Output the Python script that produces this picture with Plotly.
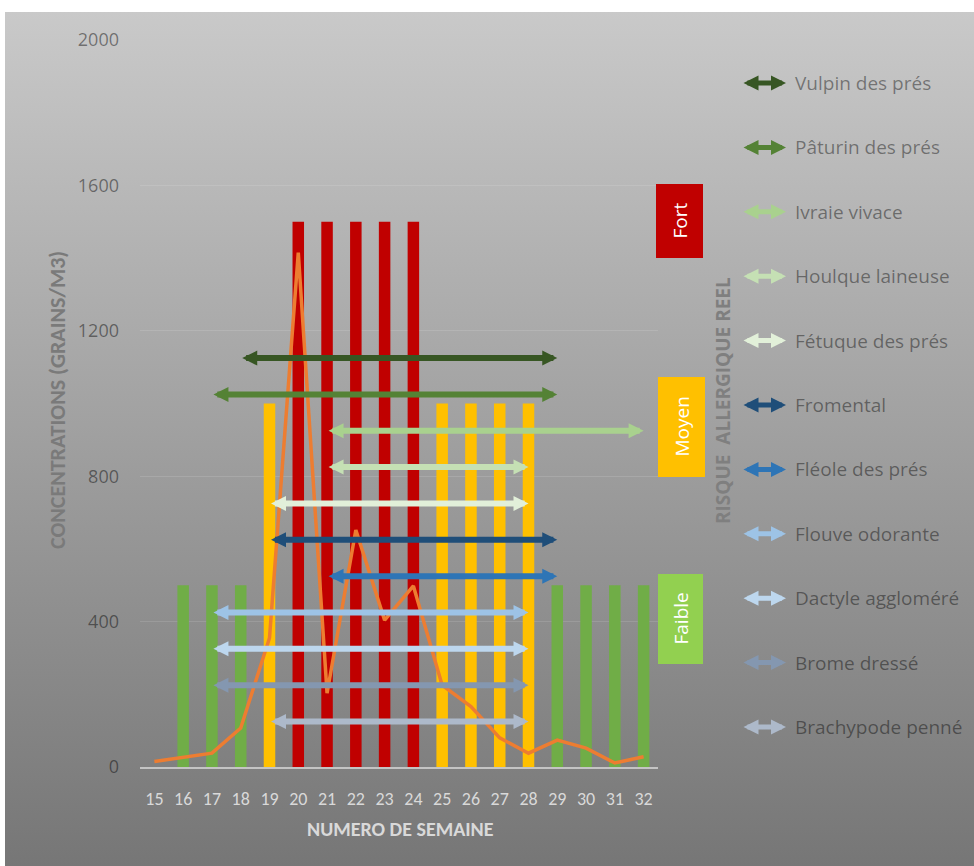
import base64
import plotly.graph_objects as go

# ---------------- data ----------------
weeks = list(range(15, 33))
risk_values = [None, 500, 500, 500, 1000, 1500, 1500, 1500, 1500, 1500,
               1000, 1000, 1000, 1000, 500, 500, 500, 500]
risk_level = [None, "Faible", "Faible", "Faible", "Moyen", "Fort", "Fort", "Fort", "Fort", "Fort",
              "Moyen", "Moyen", "Moyen", "Moyen", "Faible", "Faible", "Faible", "Faible"]
concentrations = [15, 26, 38, 107, 355, 1415, 203, 652, 404, 498,
                  225, 166, 80, 38, 74, 52, 11, 28]

species = ["Vulpin des prés", "Pâturin des prés", "Ivraie vivace", "Houlque laineuse",
           "Fétuque des prés", "Fromental", "Fléole des prés", "Flouve odorante",
           "Dactyle aggloméré", "Brome dressé", "Brachypode penné"]
species_start = [18, 17, 21, 21, 19, 19, 21, 17, 17, 17, 19]
species_end = [29, 29, 32, 28, 28, 29, 29, 28, 28, 28, 28]
species_level = [1125, 1025, 925, 825, 725, 625, 525, 425, 325, 225, 125]
species_colors = ["#375623", "#548235", "#a9d18e", "#c5e0b4", "#e2f0d9", "#1f4e79",
                  "#2e75b6", "#9dc3e6", "#bdd7ee", "#8497b0", "#adb9ca"]

y_ticks = [0, 400, 800, 1200, 1600, 2000]
level_colors = {"Faible": "#70ad47", "Moyen": "#ffc000", "Fort": "#c00000"}

# ---------------- layout geometry ----------------
W, H = 974, 866
L, R, T, B = 140, 316, 40, 99
PW = W - L - R
PH = H - T - B


def px(xp):
    return (xp - L) / PW


def py(yp):
    return (H - B - yp) / PH


FONT_T = "'Open Sans', 'Noto Sans', sans-serif"
FONT_C = "Carlito, 'Liberation Sans Narrow', 'Liberation Sans', sans-serif"

fig = go.Figure()

fig.add_trace(go.Bar(
    x=weeks, y=risk_values, width=0.4,
    marker=dict(color=[level_colors.get(l, "rgba(0,0,0,0)") for l in risk_level], line=dict(width=0)),
    showlegend=False, hoverinfo="skip"))

fig.add_trace(go.Scatter(
    x=weeks, y=concentrations, mode="lines",
    line=dict(color="#ed7d31", width=3.5), showlegend=False))

# gradient background panel (SVG image)
svg = ('<svg xmlns="http://www.w3.org/2000/svg" width="100" height="100" preserveAspectRatio="none">'
       '<defs><linearGradient id="g" x1="0" y1="0" x2="0" y2="1">'
       '<stop offset="0" stop-color="#c9c9c9"/><stop offset="1" stop-color="#767676"/>'
       '</linearGradient></defs><rect width="100" height="100" fill="url(#g)"/></svg>')
src = "data:image/svg+xml;base64," + base64.b64encode(svg.encode()).decode()
images = [dict(source=src, xref="paper", yref="paper", x=px(5), y=py(12),
               sizex=px(W + 2) - px(5), sizey=py(12) - py(H + 2), sizing="stretch",
               xanchor="left", yanchor="top", layer="below")]

shapes = []
# risk boxes
boxes = [("Fort", "#c00000", 656, 703, 184, 258),
         ("Moyen", "#ffc000", 658, 705, 377, 477),
         ("Faible", "#92d050", 658, 703, 574, 664)]
annotations = []
for lbl, col, x0, x1, y0, y1 in boxes:
    shapes.append(dict(type="rect", xref="paper", yref="paper",
                       x0=px(x0), x1=px(x1), y0=py(y1), y1=py(y0),
                       fillcolor=col, line=dict(width=0), layer="above"))
    annotations.append(dict(xref="paper", yref="paper", x=px((x0 + x1) / 2), y=py((y0 + y1) / 2),
                            xanchor="center", yanchor="middle",
                            text=lbl, textangle=-90, showarrow=False,
                            font=dict(family=FONT_T, size=19, color="white")))

# species arrows on chart
for s, a, b, lv, col in zip(species, species_start, species_end, species_level, species_colors):
    annotations.append(dict(x=b, y=lv, ax=a, ay=lv, xref="x", yref="y", axref="x", ayref="y",
                            text="", showarrow=True, arrowhead=2, arrowside="end+start",
                            arrowwidth=6, arrowsize=0.5, arrowcolor=col, startarrowhead=2,
                            startarrowsize=0.5))

# custom legend
for i, (s, col) in enumerate(zip(species, species_colors)):
    yl = 83 + i * 64.4
    annotations.append(dict(xref="paper", yref="paper", x=px(786), y=py(yl), ax=-44, ay=0,
                            axref="pixel", ayref="pixel", text="", showarrow=True,
                            arrowhead=2, arrowside="end+start", arrowwidth=5, arrowsize=0.6,
                            startarrowhead=2, startarrowsize=0.6, arrowcolor=col))
    annotations.append(dict(xref="paper", yref="paper", x=px(793), y=py(yl), xanchor="left",
                            yanchor="middle", text=s, showarrow=False,
                            font=dict(family=FONT_T, size=19, color="rgba(0,0,0,0.42)")))

# axis titles
annotations.append(dict(xref="paper", yref="paper", x=px(57), y=py(400), xanchor="center", yanchor="middle",
                        text="<b>CONCENTRATIONS (GRAINS/M3)</b>",
                        textangle=-90, showarrow=False,
                        font=dict(family=FONT_C, size=22, color="#7a7a7a")))
annotations.append(dict(xref="paper", yref="paper", x=px(400), y=py(829), xanchor="center", yanchor="middle",
                        text="<b>NUMERO DE SEMAINE</b>",
                        showarrow=False, font=dict(family=FONT_C, size=20, color="#d9d9d9")))
annotations.append(dict(xref="paper", yref="paper", x=px(723), y=py(401), xanchor="center", yanchor="middle",
                        text="<b>RISQUE  ALLERGIQUE REEL</b>",
                        textangle=-90, showarrow=False,
                        font=dict(family=FONT_T, size=19, color="#7f7f7f")))

fig.update_layout(
    width=W, height=H, margin=dict(l=L, r=R, t=T, b=B),
    paper_bgcolor="white", plot_bgcolor="rgba(255,255,255,0.03)",
    shapes=shapes, annotations=annotations, images=images, showlegend=False,
    xaxis=dict(range=[14.5, 32.5], tickvals=weeks, ticktext=[str(w) for w in weeks],
               showgrid=False, zeroline=False, showline=True, linecolor="#c4c4c4", linewidth=2,
               ticks="", ticklabelstandoff=14,
               tickfont=dict(family=FONT_C, size=18, color="#d9d9d9"), fixedrange=True),
    yaxis=dict(range=[0, 2000], tickvals=y_ticks, showgrid=True, gridcolor="rgba(255,255,255,0.12)",
               gridwidth=1, zeroline=False, showline=False, ticks="", ticklabelstandoff=20,
               tickfont=dict(family=FONT_T, size=18, color="rgba(0,0,0,0.45)"), fixedrange=True),
)

fig.write_html("out.html")
